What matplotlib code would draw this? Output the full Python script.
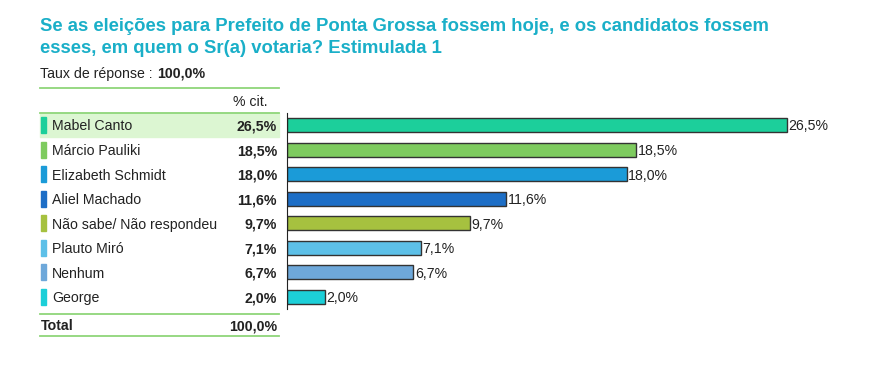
import matplotlib.pyplot as plt
from matplotlib.patches import Rectangle
from matplotlib.lines import Line2D

plt.rcParams['font.family'] = ['Liberation Sans', 'DejaVu Sans']

# data
names = ["Mabel Canto", "Márcio Pauliki", "Elizabeth Schmidt", "Aliel Machado",
         "Não sabe/ Não respondeu", "Plauto Miró", "Nenhum", "George"]
values = [26.5, 18.5, 18.0, 11.6, 9.7, 7.1, 6.7, 2.0]
colors = ["#1ccf9b", "#7ecb5f", "#1b9bd8", "#1d6ec6", "#a6c13f", "#5dc0e8", "#6ea8da", "#1ccfd8"]
title1 = "Se as eleições para Prefeito de Ponta Grossa fossem hoje, e os candidatos fossem"
title2 = "esses, em quem o Sr(a) votaria? Estimulada 1"
total = "100,0%"

W, H = 879, 371
fig = plt.figure(figsize=(W / 100, H / 100), dpi=100)

def fx(px):
    return px / W

def fy(py):
    return 1 - py / H

def fmt(v):
    return f"{v:.1f}%".replace(".", ",")

txt = "#222222"
fs = 10.2

fig.text(fx(40), fy(31), title1, color="#1aafc8", fontsize=13.3, fontweight="bold", va="baseline")
fig.text(fx(40), fy(53), title2, color="#1aafc8", fontsize=13.3, fontweight="bold", va="baseline")
fig.text(fx(40), fy(78), "Taux de réponse :", fontsize=fs, color=txt, va="baseline")
fig.text(fx(157), fy(78), total, fontsize=fs, fontweight="bold", color=txt, va="baseline")

green = "#8fd67a"
for y in [88, 113, 314, 336]:
    fig.add_artist(Line2D([fx(40), fx(279)], [fy(y), fy(y)], color=green, lw=1.3))

fig.text(fx(250), fy(106), "% cit.", fontsize=fs, color=txt, ha="center", va="baseline")

# bar axes
row_h = 24.57
top = 125 - row_h / 2
ax = fig.add_axes([fx(287), fy(top + 8 * row_h), fx(850) - fx(287), 8 * row_h / H])
ax.set_xlim(0, 26.5 * 563 / 500)
ax.set_ylim(7.5, -0.5)
ys = list(range(len(values)))
ax.barh(ys, values, height=0.57, color=colors, edgecolor="#333333", linewidth=1)
for y, v in zip(ys, values):
    ax.text(v + 0.08, y, fmt(v), va="center_baseline", ha="left", fontsize=fs, color=txt)
for s in ["top", "right", "bottom"]:
    ax.spines[s].set_visible(False)
ax.spines["left"].set_color(txt)
ax.set_xticks([])
ax.set_yticks([])

# table rows
fig.add_artist(Rectangle((fx(40), fy(top + row_h)), fx(279) - fx(40), row_h / H,
                         color="#dcf6d2", zorder=0))
for i, (n, v, c) in enumerate(zip(names, values, colors)):
    yc = 125 + i * row_h
    fig.add_artist(Rectangle((fx(41), fy(yc + 8)), 5 / W, 16 / H, color=c))
    fig.text(fx(52), fy(yc), n, fontsize=fs, color=txt, va="center_baseline")
    fig.text(fx(277), fy(yc), fmt(v), fontsize=fs, fontweight="bold", color=txt,
             va="center_baseline", ha="right")

fig.text(fx(41), fy(325), "Total", fontsize=fs, fontweight="bold", color=txt, va="center_baseline")
fig.text(fx(277), fy(325), total, fontsize=fs, fontweight="bold", color=txt,
         va="center_baseline", ha="right")

fig.savefig("out.png", dpi=100)
